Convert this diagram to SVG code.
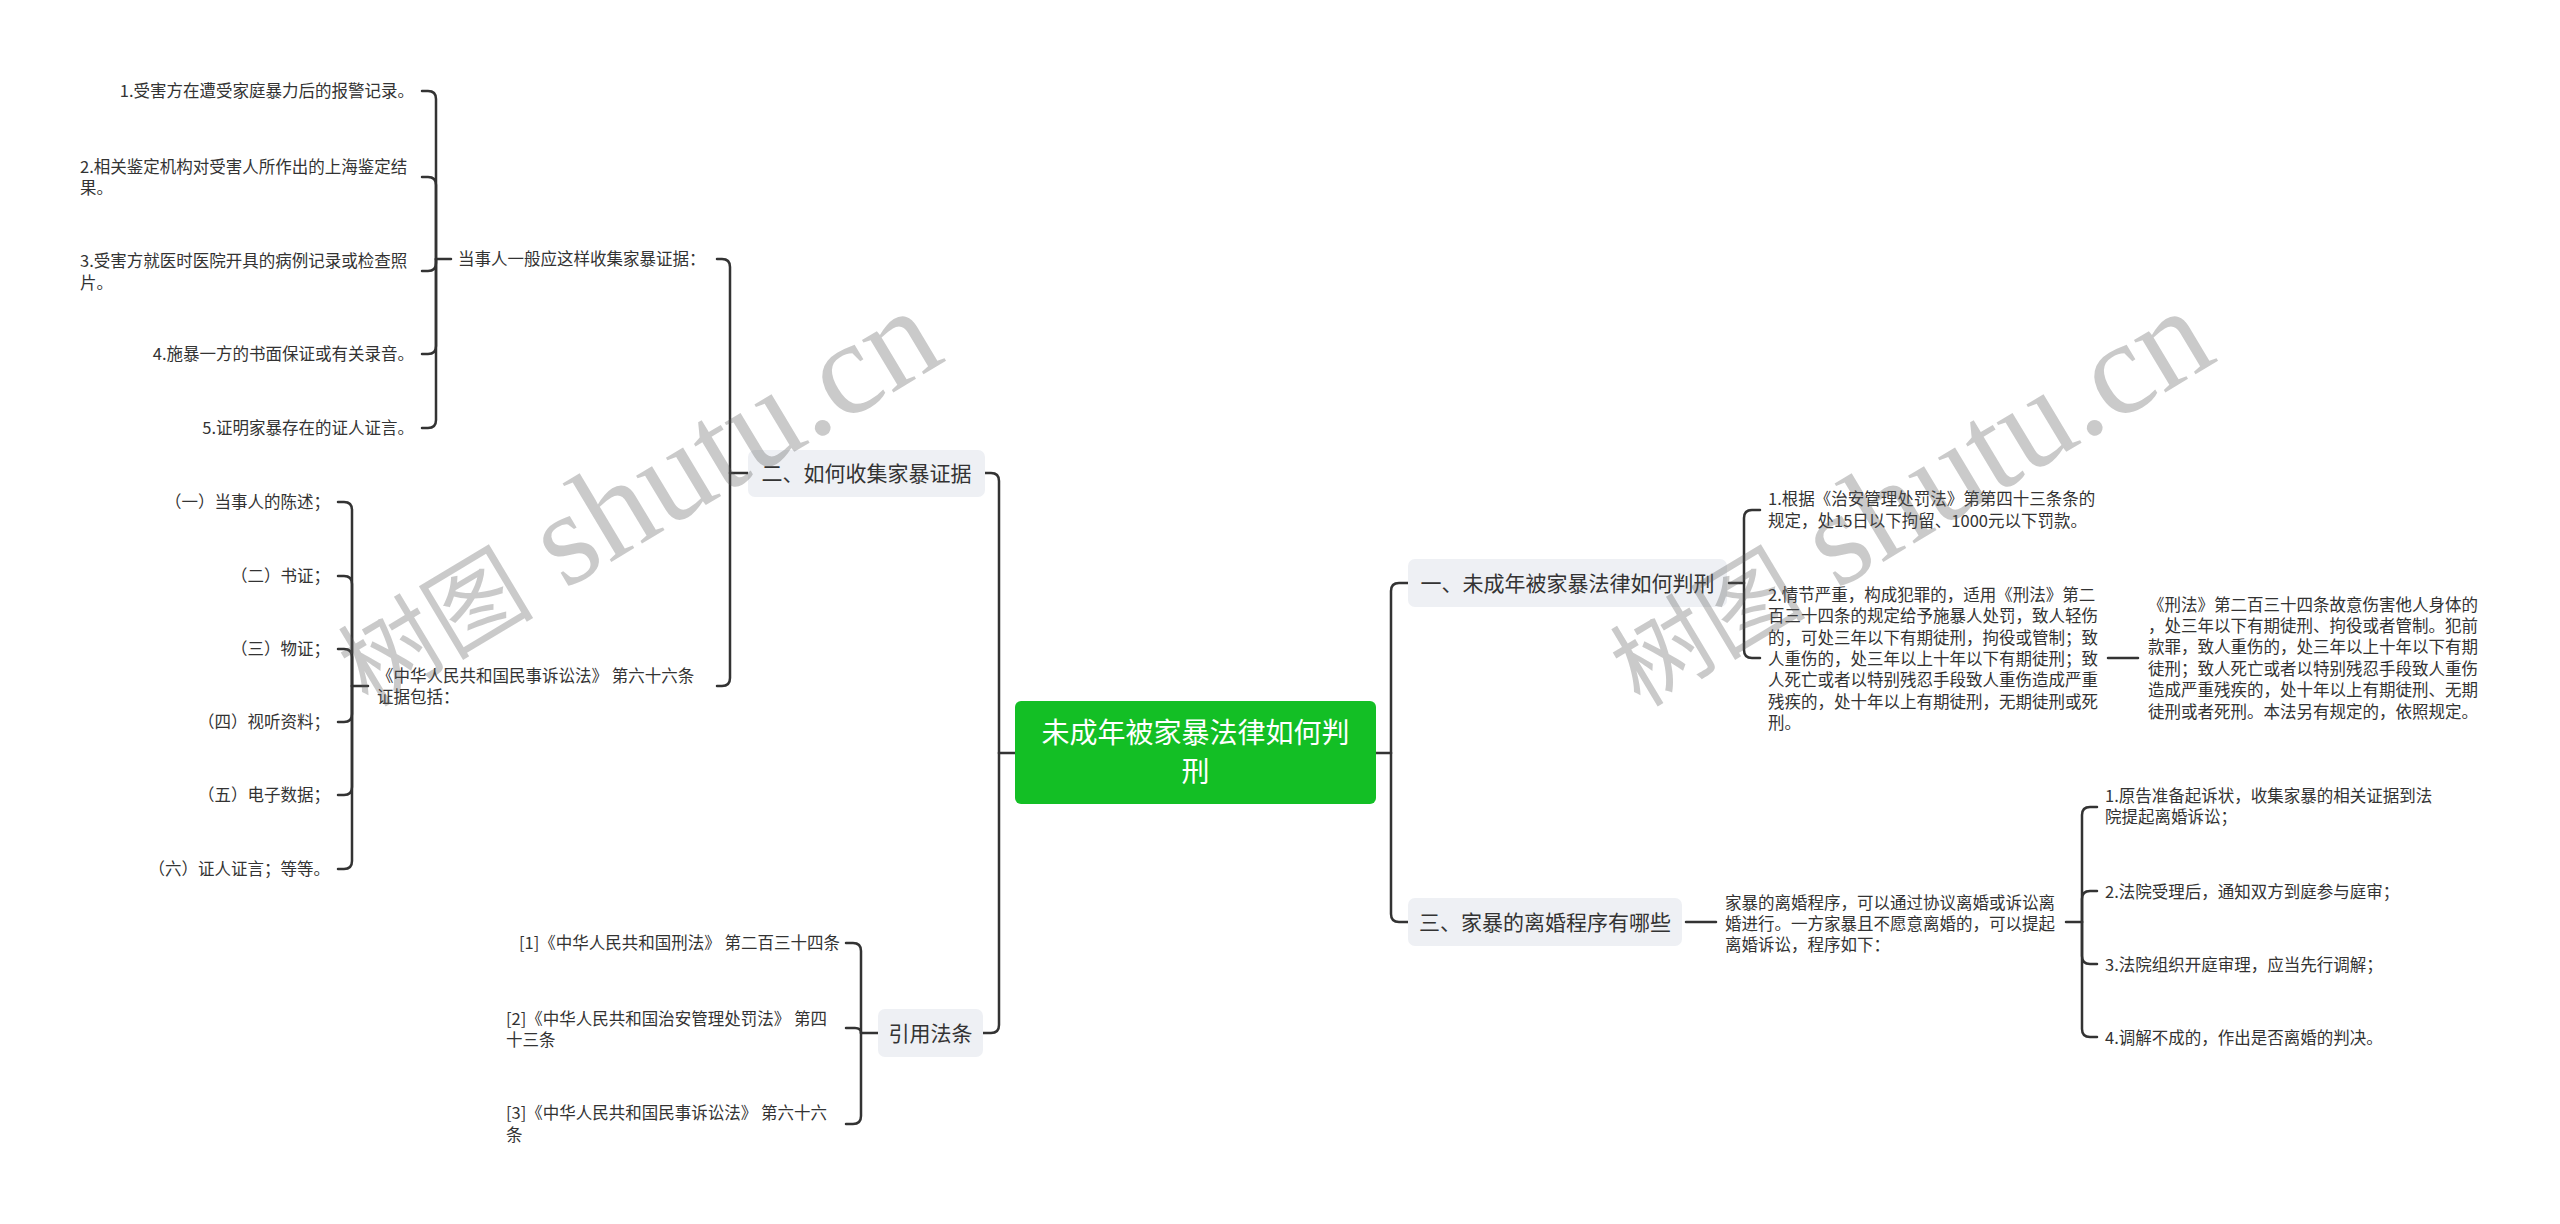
<svg xmlns="http://www.w3.org/2000/svg" width="2560" height="1224" viewBox="0 0 2560 1224">
<style>
.bg{fill:#ffffff}
.ln{fill:none;stroke:#333333;stroke-width:2.5;stroke-linecap:round;stroke-linejoin:round}
.t{font-family:"Noto Sans CJK SC","Noto Sans",sans-serif;font-size:16.5px;fill:#333333}
.e{text-anchor:end}
.nb{fill:#eef0f4}
.nt{font-family:"Noto Sans CJK SC","Noto Sans",sans-serif;font-size:21px;fill:#333333;text-anchor:middle}
.root{fill:#13bf25}
.rt{font-family:"Noto Sans CJK SC","Noto Sans",sans-serif;font-size:28px;fill:#ffffff;text-anchor:middle}
.wm{font-family:"Liberation Serif","Noto Sans CJK SC",serif;fill:#5a5a5a;fill-opacity:0.32}
</style>
<rect class="bg" x="0" y="0" width="2560" height="1224"/>

<g id="connectors">
  <path class="ln" d="M1015,753 H999"/>
  <path class="ln" d="M985,473 H991 Q999,473 999,481 V753"/>
  <path class="ln" d="M983,1033 H991 Q999,1033 999,1025 V753"/>
  <path class="ln" d="M1376,753 H1391"/>
  <path class="ln" d="M1408,583 H1399 Q1391,583 1391,591 V753"/>
  <path class="ln" d="M1408,922 H1399 Q1391,922 1391,914 V753"/>
  <path class="ln" d="M748,473 H730"/>
  <path class="ln" d="M717,259 H722 Q730,259 730,267 V473"/>
  <path class="ln" d="M717,686 H722 Q730,686 730,678 V473"/>
  <path class="ln" d="M451,259 H436"/>
  <path class="ln" d="M422,91 H428 Q436,91 436,99 V259"/>
  <path class="ln" d="M422,177 H428 Q436,177 436,185 V259"/>
  <path class="ln" d="M422,271 H428 Q436,271 436,263 V259"/>
  <path class="ln" d="M422,354 H428 Q436,354 436,346 V259"/>
  <path class="ln" d="M422,428 H428 Q436,428 436,420 V259"/>
  <path class="ln" d="M368,686 H352"/>
  <path class="ln" d="M338,502 H344 Q352,502 352,510 V686"/>
  <path class="ln" d="M338,576 H344 Q352,576 352,584 V686"/>
  <path class="ln" d="M338,649 H344 Q352,649 352,657 V686"/>
  <path class="ln" d="M338,722 H344 Q352,722 352,714 V686"/>
  <path class="ln" d="M338,795 H344 Q352,795 352,787 V686"/>
  <path class="ln" d="M338,869 H344 Q352,869 352,861 V686"/>
  <path class="ln" d="M878,1033 H861"/>
  <path class="ln" d="M846,943 H853 Q861,943 861,951 V1033"/>
  <path class="ln" d="M846,1028 H855 Q861,1028 861,1033"/>
  <path class="ln" d="M846,1124 H853 Q861,1124 861,1116 V1033"/>
  <path class="ln" d="M1729,583 H1744"/>
  <path class="ln" d="M1760,510 H1752 Q1744,510 1744,518 V583"/>
  <path class="ln" d="M1760,658 H1752 Q1744,658 1744,650 V583"/>
  <path class="ln" d="M2108,658 H2138"/>
  <path class="ln" d="M1686,922 H1716"/>
  <path class="ln" d="M2066,922 H2082"/>
  <path class="ln" d="M2097,807 H2090 Q2082,807 2082,815 V922"/>
  <path class="ln" d="M2097,891 H2090 Q2082,891 2082,899 V922"/>
  <path class="ln" d="M2097,964 H2090 Q2082,964 2082,956 V922"/>
  <path class="ln" d="M2097,1037 H2090 Q2082,1037 2082,1029 V922"/>
</g>

<g id="root">
  <rect class="root" x="1015" y="701" width="361" height="103" rx="6"/>
  <text class="rt" x="1195.5" y="743">未成年被家暴法律如何判</text>
  <text class="rt" x="1195.5" y="782">刑</text>
</g>

<g id="n-collect">
  <rect class="nb" x="748" y="450" width="237" height="47" rx="7"/>
  <text class="nt" x="866.5" y="480.5">二、如何收集家暴证据</text>
</g>
<g id="n-cite">
  <rect class="nb" x="878" y="1009" width="105" height="48" rx="7"/>
  <text class="nt" x="930.5" y="1040.5">引用法条</text>
</g>
<g id="n-sentence">
  <rect class="nb" x="1408" y="559" width="319" height="48" rx="7"/>
  <text class="nt" x="1567.5" y="590.5">一、未成年被家暴法律如何判刑</text>
</g>
<g id="n-divorce">
  <rect class="nb" x="1408" y="898" width="274" height="48" rx="7"/>
  <text class="nt" x="1545" y="929.5">三、家暴的离婚程序有哪些</text>
</g>

<g id="n-party">
  <text class="t" x="458" y="265">当事人一般应这样收集家暴证据：</text>
</g>
<g id="n-p1"><text class="t e" x="414" y="97">1.受害方在遭受家庭暴力后的报警记录。</text></g>
<g id="n-p2"><text class="t" x="80" y="173">2.相关鉴定机构对受害人所作出的上海鉴定结</text><text class="t" x="80" y="194">果。</text></g>
<g id="n-p3"><text class="t" x="80" y="267">3.受害方就医时医院开具的病例记录或检查照</text><text class="t" x="80" y="289">片。</text></g>
<g id="n-p4"><text class="t e" x="414" y="360">4.施暴一方的书面保证或有关录音。</text></g>
<g id="n-p5"><text class="t e" x="414" y="434">5.证明家暴存在的证人证言。</text></g>

<g id="n-civil">
  <text class="t" x="377" y="682">《中华人民共和国民事诉讼法》 第六十六条</text>
  <text class="t" x="377" y="703">证据包括：</text>
</g>
<g id="n-c1"><text class="t e" x="330" y="508">（一）当事人的陈述；</text></g>
<g id="n-c2"><text class="t e" x="330" y="582">（二）书证；</text></g>
<g id="n-c3"><text class="t e" x="330" y="655">（三）物证；</text></g>
<g id="n-c4"><text class="t e" x="330" y="728">（四）视听资料；</text></g>
<g id="n-c5"><text class="t e" x="330" y="801">（五）电子数据；</text></g>
<g id="n-c6"><text class="t e" x="330" y="875">（六）证人证言；等等。</text></g>

<g id="n-r1"><text class="t e" x="840" y="949">[1]《中华人民共和国刑法》 第二百三十四条</text></g>
<g id="n-r2"><text class="t" x="506" y="1025">[2]《中华人民共和国治安管理处罚法》 第四</text><text class="t" x="506" y="1046">十三条</text></g>
<g id="n-r3"><text class="t" x="506" y="1119">[3]《中华人民共和国民事诉讼法》 第六十六</text><text class="t" x="506" y="1141">条</text></g>

<g id="n-s1">
  <text class="t" x="1768" y="505">1.根据《治安管理处罚法》第第四十三条条的</text>
  <text class="t" x="1768" y="527">规定，处15日以下拘留、1000元以下罚款。</text>
</g>
<g id="n-s2">
  <text class="t" x="1768" y="601">2.情节严重，构成犯罪的，适用《刑法》第二</text>
  <text class="t" x="1768" y="622">百三十四条的规定给予施暴人处罚，致人轻伤</text>
  <text class="t" x="1768" y="644">的，可处三年以下有期徒刑，拘役或管制；致</text>
  <text class="t" x="1768" y="665">人重伤的，处三年以上十年以下有期徒刑；致</text>
  <text class="t" x="1768" y="686">人死亡或者以特别残忍手段致人重伤造成严重</text>
  <text class="t" x="1768" y="708">残疾的，处十年以上有期徒刑，无期徒刑或死</text>
  <text class="t" x="1768" y="729">刑。</text>
</g>
<g id="n-s3">
  <text class="t" x="2148" y="611">《刑法》第二百三十四条故意伤害他人身体的</text>
  <text class="t" x="2148" y="632">，处三年以下有期徒刑、拘役或者管制。犯前</text>
  <text class="t" x="2148" y="653">款罪，致人重伤的，处三年以上十年以下有期</text>
  <text class="t" x="2148" y="675">徒刑；致人死亡或者以特别残忍手段致人重伤</text>
  <text class="t" x="2148" y="696">造成严重残疾的，处十年以上有期徒刑、无期</text>
  <text class="t" x="2148" y="718">徒刑或者死刑。本法另有规定的，依照规定。</text>
</g>

<g id="n-d0">
  <text class="t" x="1725" y="909">家暴的离婚程序，可以通过协议离婚或诉讼离</text>
  <text class="t" x="1725" y="930">婚进行。一方家暴且不愿意离婚的，可以提起</text>
  <text class="t" x="1725" y="951">离婚诉讼，程序如下：</text>
</g>
<g id="n-d1"><text class="t" x="2105" y="802">1.原告准备起诉状，收集家暴的相关证据到法</text><text class="t" x="2105" y="823">院提起离婚诉讼；</text></g>
<g id="n-d2"><text class="t" x="2105" y="898">2.法院受理后，通知双方到庭参与庭审；</text></g>
<g id="n-d3"><text class="t" x="2105" y="971">3.法院组织开庭审理，应当先行调解；</text></g>
<g id="n-d4"><text class="t" x="2105" y="1044">4.调解不成的，作出是否离婚的判决。</text></g>

<g id="watermarks">
  <text class="wm" transform="translate(368,708) rotate(-31)"><tspan font-size="98">树图</tspan><tspan font-size="133"> shutu.cn</tspan></text>
  <text class="wm" transform="translate(1640,708) rotate(-31)"><tspan font-size="98">树图</tspan><tspan font-size="133"> shutu.cn</tspan></text>
</g>
</svg>
